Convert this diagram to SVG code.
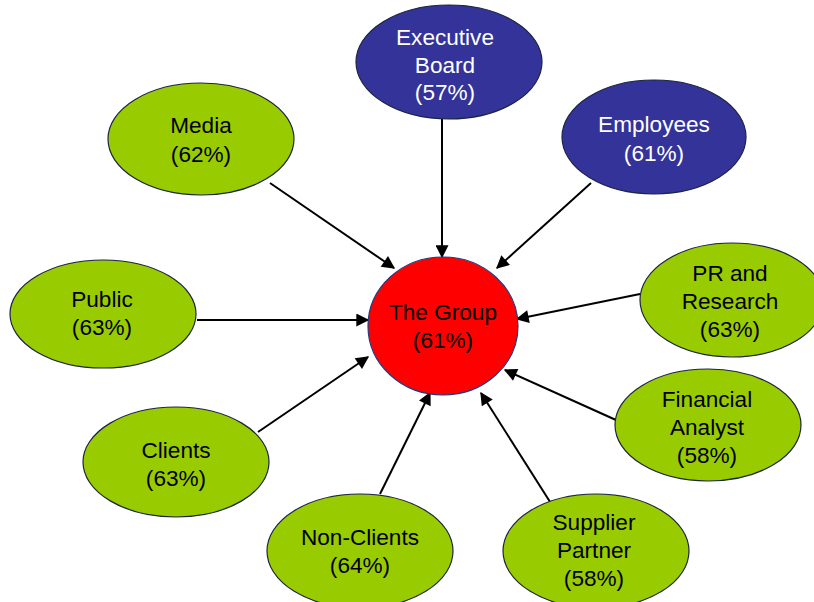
<svg xmlns="http://www.w3.org/2000/svg" width="814" height="602" viewBox="0 0 814 602">
<style>
.g{fill:#99CC00;stroke:#1a2540;stroke-width:1.2}
.b{fill:#333399;stroke:#1a2540;stroke-width:1.2}
.r{fill:#FF0000;stroke:#1f3a80;stroke-width:1.2}
text{font-family:"Liberation Sans",Arial,sans-serif;font-size:22.6px;text-anchor:middle}
.dk{fill:#000}
.wt{fill:#fff}
.c line{stroke:#000;stroke-width:2;marker-end:url(#ah)}
</style>
<defs>
<marker id="ah" viewBox="0 0 10 10" refX="9" refY="5" markerWidth="7.5" markerHeight="6.5" markerUnits="strokeWidth" orient="auto">
<path d="M0,0 L10,5 L0,10 z" fill="#000"/>
</marker>
</defs>
<rect width="814" height="602" fill="#fff"/>
<g class="c">
<line x1="442" y1="119" x2="442" y2="257"/>
<line x1="591" y1="183" x2="497" y2="268"/>
<line x1="270" y1="183" x2="394" y2="268"/>
<line x1="197" y1="320" x2="368" y2="320"/>
<line x1="640" y1="294" x2="517" y2="319"/>
<line x1="616" y1="420" x2="505" y2="370"/>
<line x1="552" y1="505" x2="481" y2="393"/>
<line x1="380" y1="494" x2="430" y2="393"/>
<line x1="258" y1="432" x2="368" y2="357"/>
</g>
<g id="exec"><ellipse class="b" cx="449" cy="62" rx="93" ry="57"/><text class="wt" x="445" y="45">Executive</text><text class="wt" x="445" y="73">Board</text><text class="wt" x="445" y="100">(57%)</text></g>
<g id="employees"><ellipse class="b" cx="654" cy="137" rx="92" ry="57"/><text class="wt" x="654" y="132">Employees</text><text class="wt" x="654" y="161">(61%)</text></g>
<g id="media"><ellipse class="g" cx="201" cy="139" rx="93" ry="56"/><text class="dk" x="201" y="133">Media</text><text class="dk" x="201" y="162">(62%)</text></g>
<g id="public"><ellipse class="g" cx="103" cy="314" rx="93" ry="54"/><text class="dk" x="102" y="307">Public</text><text class="dk" x="102" y="335">(63%)</text></g>
<g id="group"><ellipse class="r" cx="443" cy="326" rx="75" ry="69"/><text class="dk" x="443" y="320">The Group</text><text class="dk" x="443" y="348">(61%)</text></g>
<g id="pr"><ellipse class="g" cx="732" cy="300" rx="92" ry="57"/><text class="dk" x="730" y="281">PR and</text><text class="dk" x="730" y="309">Research</text><text class="dk" x="730" y="337">(63%)</text></g>
<g id="financial"><ellipse class="g" cx="708" cy="425" rx="93" ry="56"/><text class="dk" x="707" y="407">Financial</text><text class="dk" x="707" y="435">Analyst</text><text class="dk" x="707" y="463">(58%)</text></g>
<g id="supplier"><ellipse class="g" cx="596" cy="551" rx="93" ry="57"/><text class="dk" x="594" y="530">Supplier</text><text class="dk" x="594" y="558">Partner</text><text class="dk" x="594" y="586">(58%)</text></g>
<g id="nonclients"><ellipse class="g" cx="360" cy="551" rx="93" ry="57"/><text class="dk" x="360" y="545">Non-Clients</text><text class="dk" x="360" y="573">(64%)</text></g>
<g id="clients"><ellipse class="g" cx="176" cy="462" rx="93" ry="55"/><text class="dk" x="176" y="458">Clients</text><text class="dk" x="176" y="486">(63%)</text></g>
</svg>
